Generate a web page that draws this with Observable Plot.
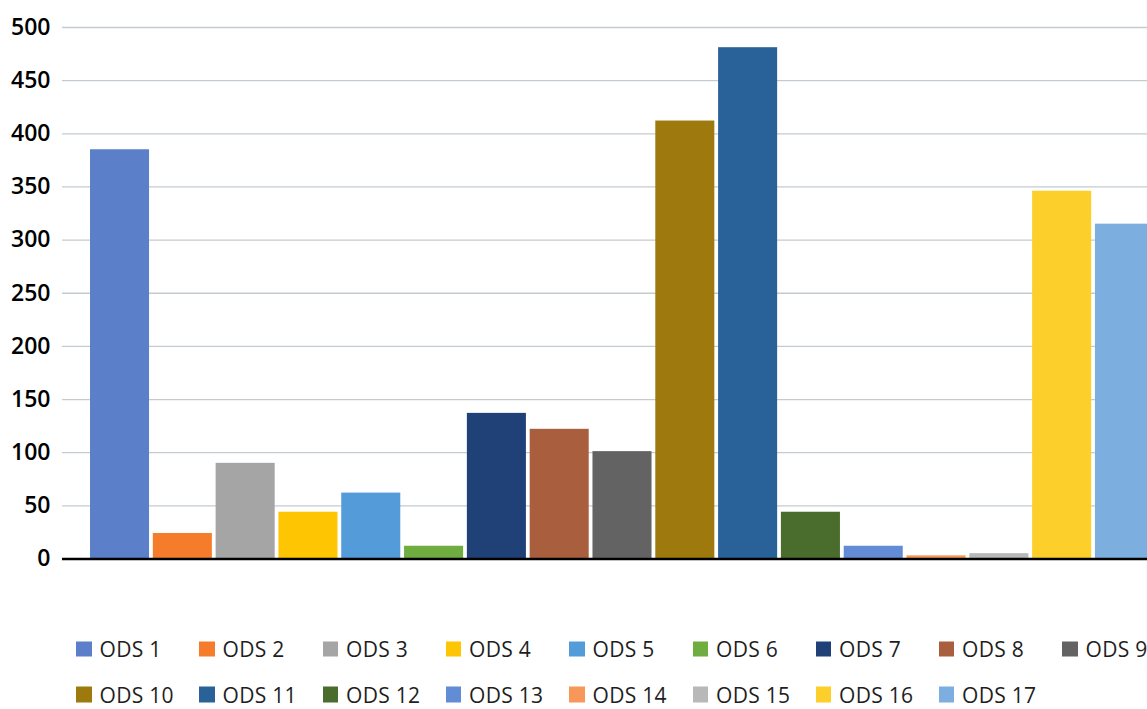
<!DOCTYPE html>
<html>
<head>
<meta charset="utf-8">
<script src="https://cdn.jsdelivr.net/npm/d3@7"></script>
<script src="https://cdn.jsdelivr.net/npm/@observablehq/plot@0.6"></script>
<style>
  html, body { margin: 0; padding: 0; background: #fff; overflow: hidden; }
  #wrap { position: relative; width: 1147px; height: 709px; overflow: hidden; font-family: "Open Sans", sans-serif; }
  #chart { position: absolute; left: 0; top: 0; width: 1182px; }
  #chart svg { max-width: none !important; }
  .leg { position: absolute; display: flex; align-items: center; white-space: nowrap; font-size: 21px; letter-spacing: 0.3px; line-height: 1; color: #1e1e1e; transform: translateY(-50%); }
  .sw { width: 15.5px; height: 15.5px; margin-right: 8px; flex: none; }
</style>
</head>
<body>
<div id="wrap">
  <div id="chart"></div>
  <div id="legend"></div>
</div>
<script>
const labels = ["ODS 1","ODS 2","ODS 3","ODS 4","ODS 5","ODS 6","ODS 7","ODS 8","ODS 9","ODS 10","ODS 11","ODS 12","ODS 13","ODS 14","ODS 15","ODS 16","ODS 17"];
const values = [385, 24, 90, 44, 62, 12, 137, 122, 101, 412, 481, 44, 12, 3, 5, 346, 315];
const colors = ["#5b80c9","#f57c2b","#a5a5a5","#fec502","#549bd9","#70ad40","#1f4178","#a95f3e","#636363","#9e7a0e","#286299","#4a6d2e","#638cd6","#f7985a","#b8b8b8","#fccf2a","#7caee0"];
const yTicks = [0, 50, 100, 150, 200, 250, 300, 350, 400, 450, 500];

const data = labels.map((ods, i) => ({ods, value: values[i]}));

const chart = Plot.plot({
  width: 1182,
  height: 585,
  marginLeft: 62,
  marginRight: 0,
  marginTop: 27,
  marginBottom: 26.5,
  style: { fontFamily: "Open Sans, sans-serif", fontSize: "23px", fontWeight: 600, color: "#000", background: "transparent", maxWidth: "none" },
  x: { domain: labels, paddingInner: 0.06, paddingOuter: 0.446, round: false, axis: null },
  y: { domain: [0, 500] },
  color: { domain: labels, range: colors },
  marks: [
    Plot.gridY(yTicks, { stroke: "#c3cbd0", strokeOpacity: 1, strokeWidth: 1.3 }),
    Plot.axisY(yTicks, { tickSize: 0, tickPadding: 12, label: null, fontSize: 23, fontWeight: 600 }),
    Plot.barY(data, { x: "ods", y: "value", fill: "ods" }),
    Plot.ruleY([0], { stroke: "#000", strokeWidth: 2.6 })
  ]
});
document.getElementById("chart").appendChild(chart);

// Legend (HTML, below the SVG)
const colLefts = [76, 199, 322.5, 445.5, 569, 692.5, 815.5, 938.5, 1062];
const rowCenters = [649, 694.5];
const legend = document.getElementById("legend");
labels.forEach((lab, i) => {
  const col = i % 9, row = Math.floor(i / 9);
  const item = document.createElement("div");
  item.className = "leg";
  item.style.left = colLefts[col] + "px";
  item.style.top = rowCenters[row] + "px";
  const sw = document.createElement("span");
  sw.className = "sw";
  sw.style.background = colors[i];
  const t = document.createElement("span");
  t.textContent = lab;
  item.appendChild(sw);
  item.appendChild(t);
  legend.appendChild(item);
});
</script>
</body>
</html>
